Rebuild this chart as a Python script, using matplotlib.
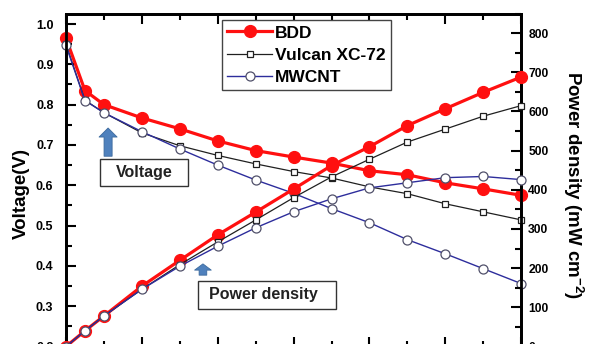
import matplotlib
matplotlib.use("Agg")
import matplotlib.pyplot as plt
from matplotlib.ticker import MultipleLocator
from matplotlib.patches import Rectangle

plt.rcParams['font.family'] = ['Liberation Sans', 'DejaVu Sans']
plt.rcParams['font.weight'] = 'bold'
plt.rcParams['mathtext.fontset'] = 'custom'
plt.rcParams['mathtext.rm'] = 'Liberation Sans:bold'
plt.rcParams['mathtext.default'] = 'rm'

# current density (mA cm-2)
current = [0, 50, 100, 200, 300, 400, 500, 600, 700, 800, 900, 1000, 1100, 1200]

# voltage (V)
bdd_v = [0.965, 0.835, 0.800, 0.767, 0.740, 0.710, 0.686, 0.670, 0.655, 0.636, 0.626, 0.606, 0.591, 0.575]
vulcan_v = [0.950, 0.811, 0.780, 0.730, 0.698, 0.674, 0.653, 0.634, 0.618, 0.596, 0.579, 0.554, 0.534, 0.514]
mwcnt_v = [0.947, 0.810, 0.780, 0.733, 0.690, 0.650, 0.613, 0.580, 0.542, 0.507, 0.465, 0.430, 0.393, 0.356]

# power density (mW cm-2)
bdd_p = [0, 40, 78, 154, 220, 285, 343, 402, 462, 510, 564, 607, 649, 688]
vulcan_p = [0, 40, 78, 146, 209, 267, 323, 380, 433, 478, 522, 555, 588, 615]
mwcnt_p = [0, 40, 78, 146, 205, 256, 303, 344, 377, 405, 418, 431, 434, 426]

labels = ['BDD', 'Vulcan XC-72', 'MWCNT']

red = '#ff1010'
navy = '#2d2d9c'

fig = plt.figure(figsize=(5.89, 3.44), dpi=100)
ax = fig.add_axes([0.112, -0.0073, 0.773, 0.968])
ax2 = ax.twinx()

def draw(a, y1, y2, y3):
  h1, = a.plot(current, y1, color=red, lw=2.3, marker='o', ms=8.5,
               mfc=red, mec=red, clip_on=False, zorder=3)
  h2, = a.plot(current, y2, color='#202020', lw=0.9, marker='s', ms=5,
               mfc='white', mec='#202020', mew=0.9, clip_on=False, zorder=4)
  h3, = a.plot(current, y3, color=navy, lw=1.0, marker='o', ms=6.5,
               mfc='white', mec='#50506a', mew=0.9, clip_on=False, zorder=5)
  return [h1, h2, h3]

handles = draw(ax, bdd_v, vulcan_v, mwcnt_v)
draw(ax2, bdd_p, vulcan_p, mwcnt_p)

ax.set_xlim(0, 1200)
ax.set_ylim(0.2, 1.026)
ax2.set_ylim(0, 850)

ax.xaxis.set_major_locator(MultipleLocator(200))
ax.xaxis.set_minor_locator(MultipleLocator(100))
ax.yaxis.set_major_locator(MultipleLocator(0.1))
ax.yaxis.set_minor_locator(MultipleLocator(0.05))
ax2.yaxis.set_major_locator(MultipleLocator(100))
ax2.yaxis.set_minor_locator(MultipleLocator(50))

ax.tick_params(which='both', direction='in', top=True, bottom=True, width=1.5,
               labelbottom=False, labelsize=9, pad=9)
ax.tick_params(which='major', length=7)
ax.tick_params(which='minor', length=4)
ax2.tick_params(which='both', direction='in', width=1.5, labelsize=8.7, pad=5)
ax2.tick_params(which='major', length=7)
ax2.tick_params(which='minor', length=4)

for a in (ax, ax2):
  for s in a.spines.values():
    s.set_linewidth(2)

ax.set_ylabel('Voltage(V)', fontsize=13.5, fontweight='bold', va='center', ha='center')
ax.yaxis.set_label_coords(-0.097, 0.461)
ax2.set_ylabel('Power density (mW cm$^{-2}$)', fontsize=13.5, fontweight='bold',
               rotation=270, va='center', ha='center')
ax2.yaxis.set_label_coords(1.114, 0.485)

leg = ax2.legend(handles, labels, loc='upper left', bbox_to_anchor=(0.343, 0.98),
                 borderaxespad=0, fancybox=False, framealpha=1, edgecolor='#444444',
                 prop={'weight': 'bold', 'size': 12.5}, handlelength=2.6,
                 handletextpad=0.15, borderpad=0.3, labelspacing=0.4)
leg.get_frame().set_linewidth(1.0)
leg.set_zorder(10)

# annotation boxes
ax2.add_patch(Rectangle((0.0747, 0.482), 0.193, 0.081, transform=ax.transAxes,
                        fc='white', ec='#333333', lw=1.0, zorder=6))
ax2.text(0.171, 0.5225, 'Voltage', transform=ax.transAxes, ha='center', va='center',
         fontsize=11.5, fontweight='bold', color='#222222', zorder=7)
ax2.add_patch(Rectangle((0.290, 0.1126), 0.303, 0.084, transform=ax.transAxes,
                        fc='white', ec='#333333', lw=1.0, zorder=6))
ax2.text(0.433, 0.1547, 'Power density', transform=ax.transAxes, ha='center', va='center',
         fontsize=11.5, fontweight='bold', color='#222222', zorder=7)

# blue arrows
ax.annotate('', xy=(111, 0.742), xytext=(111, 0.672),
            arrowprops=dict(arrowstyle='simple,head_width=13,head_length=6.5,tail_width=5.8',
                            mutation_scale=1, fc='#4f81bd', ec='#3c6a9e', lw=0.6,
                            shrinkA=0, shrinkB=0), zorder=6)
ax.annotate('', xy=(361, 0.405), xytext=(361, 0.377),
            arrowprops=dict(arrowstyle='simple,head_width=12,head_length=4.5,tail_width=5.5',
                            mutation_scale=1, fc='#4f81bd', ec='#3c6a9e', lw=0.6,
                            shrinkA=0, shrinkB=0), zorder=6)

fig.savefig('out.png', dpi=100)
